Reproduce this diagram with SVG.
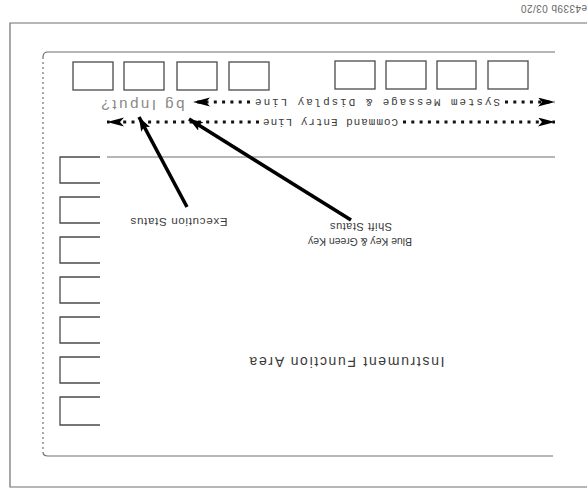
<svg xmlns="http://www.w3.org/2000/svg" width="587" height="490" viewBox="0 0 587 490">
<style>
.frame{fill:none;stroke:#6e6e6e;stroke-width:1.2}
.dash{fill:none;stroke:#6e6e6e;stroke-width:1.2;stroke-dasharray:2 3}
.key{fill:none;stroke:#4a4a4a;stroke-width:1.3}
.dots{fill:none;stroke:#111;stroke-width:3;stroke-dasharray:3 5.3}
.lead{fill:none;stroke:#000;stroke-width:3.6}
.lbl{font-family:"Liberation Sans",Arial,sans-serif;fill:#3a3a3a}
.mono{font-family:"Liberation Mono","DejaVu Sans Mono",monospace;fill:#3a3a3a}
</style>
<defs>
<marker id="dh" markerUnits="userSpaceOnUse" markerWidth="18" markerHeight="10" refX="17" refY="4.5" orient="auto"><path d="M0,0 L17,4.5 L0,9 L4,4.5 z" fill="#000"/></marker>
<marker id="ah" markerUnits="userSpaceOnUse" markerWidth="16" markerHeight="12" refX="14" refY="5" orient="auto"><path d="M0,0 L14,5 L0,10 L3,5 z" fill="#000"/></marker>
</defs>

<g id="outer-frame"><path class="frame" d="M587,23 H10 V487 H587"/></g>
<g id="display-frame">
<path class="frame" d="M555,52 H48 Q43,52 43,57"/>
<path class="dash" d="M43,57 V452"/>
<path class="frame" d="M43,452 Q43,456 48,456 H553"/>
<path class="frame" d="M107,157 H555"/>
</g>

<g id="top-softkeys">
<rect id="tk1" class="key" x="73" y="62" width="40" height="28"/>
<rect id="tk2" class="key" x="124" y="62" width="40" height="28"/>
<rect id="tk3" class="key" x="177" y="62" width="40" height="28"/>
<rect id="tk4" class="key" x="229" y="62" width="40" height="28"/>
<rect id="tk5" class="key" x="335" y="61" width="40" height="28"/>
<rect id="tk6" class="key" x="386" y="61" width="40" height="28"/>
<rect id="tk7" class="key" x="437" y="61" width="39" height="28"/>
<rect id="tk8" class="key" x="488" y="61" width="40" height="28"/>
</g>

<g id="side-softkeys">
<path id="sk1" class="key" d="M100,157 H60 V183 H100"/>
<path id="sk2" class="key" d="M100,197 H60 V223 H100"/>
<path id="sk3" class="key" d="M100,237 H60 V263 H100"/>
<path id="sk4" class="key" d="M100,277 H60 V303 H100"/>
<path id="sk5" class="key" d="M100,317 H60 V343 H100"/>
<path id="sk6" class="key" d="M100,357 H60 V383 H100"/>
<path id="sk7" class="key" d="M100,397 H60 V425 H100"/>
</g>

<g id="connectors">
<path class="dots" d="M250,102 H193" marker-end="url(#dh)"/>
<path class="dots" d="M505,102 H555" marker-end="url(#dh)"/>
<path class="dots" d="M259,122 H107" marker-end="url(#dh)"/>
<path class="dots" d="M403,122 H555" marker-end="url(#dh)"/>
<path class="lead" d="M187,207 L139,117" marker-end="url(#ah)"/>
<path class="lead" d="M351,220 L189,119" marker-end="url(#ah)"/>
</g>

<g id="label-system-message"><text class="mono" x="377.5" y="102" font-size="11" text-anchor="middle" dominant-baseline="central" textLength="245" lengthAdjust="spacing" transform="rotate(180 377.5 102)">System Message &amp; Display Line</text></g>
<g id="label-command-entry"><text class="mono" x="330.5" y="122" font-size="11" text-anchor="middle" dominant-baseline="central" textLength="135" lengthAdjust="spacing" transform="rotate(180 330.5 122)">Command Entry Line</text></g>
<g id="label-input"><text class="lbl" x="143" y="105" font-size="15" style="fill:#888" text-anchor="middle" dominant-baseline="central" textLength="83" lengthAdjust="spacing" transform="rotate(180 143 105)">bg Input?</text></g>
<g id="label-execution-status"><text class="lbl" x="179" y="222" font-size="11.5" text-anchor="middle" dominant-baseline="central" textLength="97" lengthAdjust="spacing" transform="rotate(180 179 222)">Execution Status</text></g>
<g id="label-shift-status">
<text class="lbl" x="361" y="227" font-size="11" text-anchor="middle" dominant-baseline="central" textLength="62" lengthAdjust="spacing" transform="rotate(180 361 227)">Shift Status</text>
<text class="lbl" x="360" y="242" font-size="10.5" text-anchor="middle" dominant-baseline="central" textLength="104" lengthAdjust="spacing" transform="rotate(180 360 242)">Blue Key &amp; Green Key</text>
</g>
<g id="label-function-area"><text class="lbl" x="347" y="362" font-size="14" text-anchor="middle" dominant-baseline="central" textLength="195" lengthAdjust="spacing" transform="rotate(180 347 362)">Instrument Function Area</text></g>
<g id="label-code"><text class="lbl" x="554" y="8.5" font-size="10" style="fill:#666" text-anchor="middle" dominant-baseline="central" textLength="66" lengthAdjust="spacing" transform="rotate(180 554 8.5)">e4339b 03/20</text></g>
</svg>
